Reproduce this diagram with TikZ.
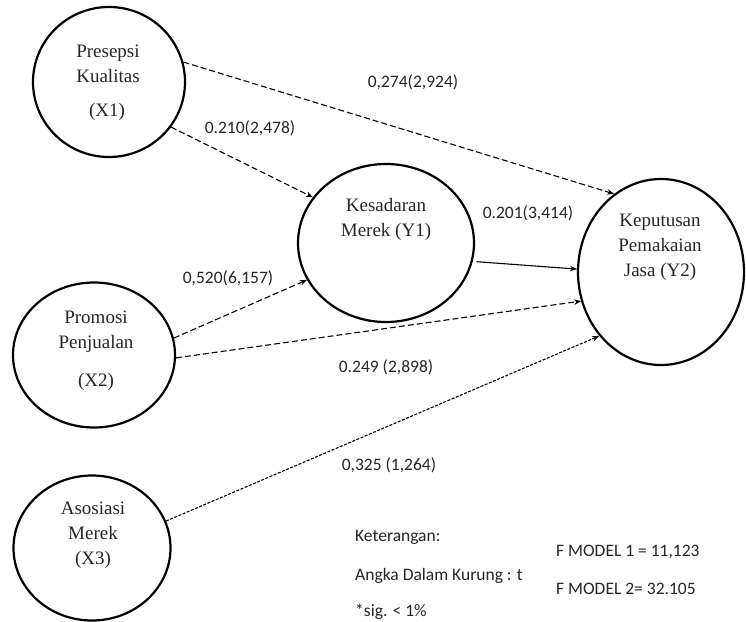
\documentclass[tikz,border=0pt]{standalone}
\usepackage{fontspec}
\setmainfont{Liberation Serif}
\newfontfamily\labfont{Carlito}
\usetikzlibrary{shapes.geometric,arrows.meta}
\begin{document}
\begin{tikzpicture}[x=1pt,y=-1pt,
  var/.style={draw, ellipse, line width=2.2pt, inner sep=0pt},
  vtext/.style={font=\fontsize{19}{25}\selectfont, align=center, text=black!85},
  lab/.style={font=\labfont\fontsize{17.5}{20}\selectfont, text=black!85, inner sep=0pt},
  note/.style={font=\labfont\fontsize{17.5}{20}\selectfont, text=black!85, inner sep=0pt, anchor=west},
  arr/.style={line width=1.1pt, -{Stealth[length=7pt,width=5.5pt]}},
  dsh/.style={arr, dash pattern=on 6pt off 3pt},
  fdsh/.style={arr, dash pattern=on 3pt off 1.5pt}]
\useasboundingbox (0,0) rectangle (746,621);
\fill[white] (0,0) rectangle (746,621);

% variables
\node[var, minimum width=152pt, minimum height=150pt] (X1) at (109,82) {};
\node[var, minimum width=162pt, minimum height=145pt] (X2) at (94,355) {};
\node[var, minimum width=157pt, minimum height=145pt] (X3) at (92,548) {};
\node[var, minimum width=176pt, minimum height=158pt] (Y1) at (386,243) {};
\node[var, minimum width=166pt, minimum height=186pt] (Y2) at (661,272) {};

% texts in the variables
\node[vtext] (tX1) at (108,64) {Presepsi\\Kualitas};
\node[vtext] (tX1b) at (107,112) {(X1)};
\node[vtext] (tX2) at (96,332) {Promosi\\Penjualan};
\node[vtext] (tX2b) at (96,382) {(X2)};
\node[vtext] (tX3) at (93,535) {Asosiasi\\Merek\\(X3)};
\node[vtext] (tY1) at (386,219) {Kesadaran\\Merek (Y1)};
\node[vtext] (tY2) at (660,247) {Keputusan\\Pemakaian\\Jasa (Y2)};

% connectors
\draw[dsh] (X1.15) -- (Y2.121);
\draw[dsh] (X1.-36) -- (Y1.148);
\draw[dsh] (X2.12) -- (Y1.-155);
\draw[dsh] (X2.-2) -- (Y2.-160);
\draw[arr, shorten <=4pt] (Y1.-12) -- (Y2.178);
\draw[fdsh] (X3.20) -- (Y2.-134);

% path labels
\node[lab] (l1) at (413,82) {0,274(2,924)};
\node[lab] (l2) at (250,128) {0.210(2,478)};
\node[lab] (l3) at (228,278) {0,520(6,157)};
\node[lab] (l4) at (528,213) {0.201(3,414)};
\node[lab] (l5) at (386,367) {0.249 (2,898)};
\node[lab] (l6) at (389,465) {0,325 (1,264)};

% notes
\node[note] (n1) at (355,537) {Keterangan:};
\node[note] (n2) at (355,576) {Angka Dalam Kurung : t};
\node[note] (n3) at (355,612) {*sig. < 1\%};
\node[note] (n4) at (556,552) {F MODEL 1 = 11,123};
\node[note] (n5) at (556,589) {F MODEL 2= 32.105};
\end{tikzpicture}
\end{document}
